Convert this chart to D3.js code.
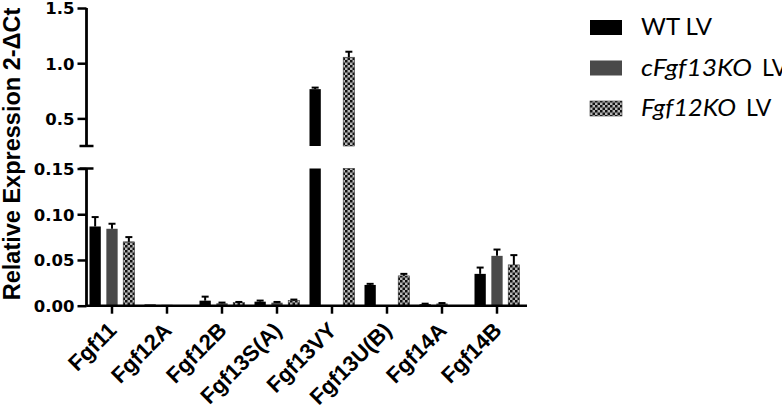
<!DOCTYPE html>
<html><head><meta charset="utf-8">
<script src="https://cdn.jsdelivr.net/npm/d3@7"></script>
<style>body{margin:0;background:#fff}svg{display:block}</style>
</head><body>
<svg id="c" width="782" height="408"></svg>
<script>
const categories = ["Fgf11","Fgf12A","Fgf12B","Fgf13S(A)","Fgf13VY","Fgf13U(B)","Fgf14A","Fgf14B"];
const seriesNames = ["WT LV","cFgf13KO LV","Fgf12KO LV"];
const wtValues   = [0.0866, 0.0014, 0.0055, 0.0044, 0.765, 0.0227, 0.0016, 0.0348];
const wtErrors   = [0.0103, 0,      0.0044, 0.0012, 0.014, 0.0012, 0.0006, 0.0069];
const koValues   = [0.0841, 0.0010, 0.0026, 0.0033, null,  null,   0.0024, 0.0545];
const koErrors   = [0.0055, 0,      0.0008, 0.0008, null,  null,   0.0005, 0.0069];
const ko12Values = [0.0698, null,   0.0033, 0.0055, 1.054, 0.0326, null,   0.0446];
const ko12Errors = [0.0052, null,   0.0008, 0.0012, 0.050, 0.0022, null,   0.0107];
const lowTicks = [0, 0.05, 0.10, 0.15];
const highTicks = [0.5, 1.0, 1.5];

const svg = d3.select("#c");
const defs = svg.append("defs");
const pat = defs.append("pattern").attr("id","chk").attr("patternUnits","userSpaceOnUse")
  .attr("width",5).attr("height",5);
pat.append("rect").attr("width",5).attr("height",5).attr("fill","#b8b8b8");
pat.append("rect").attr("width",2.5).attr("height",2.5).attr("fill","#111");
pat.append("rect").attr("x",2.5).attr("y",2.5).attr("width",2.5).attr("height",2.5).attr("fill","#111");

const axisX = 86.5;
const yLow = d3.scaleLinear().domain([0, 0.15]).range([305.7, 168.5]);
const yHigh = d3.scaleLinear().domain([0.25, 1.5]).range([146, 8]);
const x = d3.scaleBand().domain(categories).range([84.5, 524.5]).padding(0);
const sub = d3.scaleBand().domain([0,1,2]).range([-22.5, 22.5]).paddingInner(0.33);

const fills = ["#000", "#4a4a4a", "url(#chk)"];
const series = [
  {vals: wtValues, errs: wtErrors},
  {vals: koValues, errs: koErrors},
  {vals: ko12Values, errs: ko12Errors}
];

const g = svg.append("g");
series.forEach((s, si) => {
  categories.forEach((c, ci) => {
    const v = s.vals[ci];
    if (v == null) return;
    const bx = x(c) + x.bandwidth()/2 + sub(si);
    const bw = sub.bandwidth();
    const stroke = si === 2 ? "#333" : "none";
    if (v <= 0.15) {
      g.append("rect").attr("x", bx).attr("width", bw)
        .attr("y", yLow(v)).attr("height", yLow(0) - yLow(v))
        .attr("fill", fills[si]).attr("stroke", stroke).attr("stroke-width", 0.6);
    } else {
      g.append("rect").attr("x", bx).attr("width", bw)
        .attr("y", yLow(0.15)).attr("height", yLow(0) - yLow(0.15))
        .attr("fill", fills[si]).attr("stroke", stroke).attr("stroke-width", 0.6);
      g.append("rect").attr("x", bx).attr("width", bw)
        .attr("y", yHigh(v)).attr("height", yHigh(0.25) - yHigh(v))
        .attr("fill", fills[si]).attr("stroke", stroke).attr("stroke-width", 0.6);
    }
    const e = s.errs[ci];
    if (e) {
      const sc = v > 0.15 ? yHigh : yLow;
      const cx = bx + bw/2;
      g.append("line").attr("x1", cx).attr("x2", cx)
        .attr("y1", sc(v)).attr("y2", sc(v + e)).attr("stroke", "#000").attr("stroke-width", 2);
      g.append("line").attr("x1", cx - 3.5).attr("x2", cx + 3.5)
        .attr("y1", sc(v + e)).attr("y2", sc(v + e)).attr("stroke", "#000").attr("stroke-width", 2);
    }
  });
});

// Y axes
const tickFont = "'DejaVu Sans', sans-serif";
const axLow = svg.append("g").attr("transform", `translate(${axisX},0)`)
  .call(d3.axisLeft(yLow).tickValues(lowTicks).tickFormat(d3.format(".2f")).tickSize(9).tickSizeOuter(0));
const axHigh = svg.append("g").attr("transform", `translate(${axisX},0)`)
  .call(d3.axisLeft(yHigh).tickValues(highTicks).tickFormat(d3.format(".1f")).tickSize(9).tickSizeOuter(0));
[axLow, axHigh].forEach(a => {
  a.select(".domain").remove();
  a.selectAll(".tick line").attr("stroke", "#000").attr("stroke-width", 2.5);
  a.selectAll(".tick text").attr("font-family", tickFont).attr("font-weight", "bold")
    .attr("font-size", "16.5px").attr("fill", "#000").attr("x", -12).attr("dy", "0.36em");
});
svg.append("line").attr("x1", axisX).attr("x2", axisX).attr("y1", yHigh(1.5)).attr("y2", yHigh(0.25))
  .attr("stroke", "#000").attr("stroke-width", 2.8);
svg.append("line").attr("x1", axisX).attr("x2", axisX).attr("y1", yLow(0.15)).attr("y2", yLow(0)+1)
  .attr("stroke", "#000").attr("stroke-width", 2.8);
// break markers
svg.append("line").attr("x1", axisX - 7).attr("x2", axisX + 7).attr("y1", yHigh(0.25)).attr("y2", yHigh(0.25))
  .attr("stroke", "#000").attr("stroke-width", 2.5);
svg.append("line").attr("x1", axisX - 7).attr("x2", axisX + 7).attr("y1", yLow(0.15)).attr("y2", yLow(0.15))
  .attr("stroke", "#000").attr("stroke-width", 2.5);

// X axis
const ax = svg.append("g").attr("transform", `translate(0,${yLow(0)})`)
  .call(d3.axisBottom(x).tickSize(8).tickSizeOuter(0));
ax.select(".domain").attr("d", `M${axisX},0H527`).attr("stroke", "#000").attr("stroke-width", 2.5);
ax.selectAll(".tick line").attr("stroke", "#000").attr("stroke-width", 2.5);
ax.selectAll(".tick text").attr("font-family", "'Liberation Sans', Arial, sans-serif")
  .attr("font-weight", "bold").attr("font-size", "22px").attr("fill", "#000")
  .attr("text-anchor", "end").attr("dy", 0).attr("y", 0)
  .attr("transform", "translate(6,26) rotate(-45)");

// Y title
svg.append("text").attr("transform", "translate(20,154) rotate(-90)")
  .attr("text-anchor", "middle").attr("font-family", "'Liberation Sans', Arial, sans-serif")
  .attr("font-weight", "bold").attr("font-size", "23.5px").attr("fill", "#000")
  .text("Relative Expression 2-\u0394Ct");

// Legend
const leg = svg.append("g");
const legFills = ["#000", "#4a4a4a", "url(#chk)"];
const italicLen = [null, 111, 95];
const lvX = [null, 762, 746];
seriesNames.forEach((name, i) => {
  const y0 = 20 + i * 40.5;
  leg.append("rect").attr("x", 590).attr("y", y0).attr("width", 32).attr("height", 15)
    .attr("fill", legFills[i]).attr("stroke", i === 2 ? "#333" : "none").attr("stroke-width", 0.6);
  const t = leg.append("text").attr("x", 641).attr("y", y0 + 15)
    .attr("font-family", "Lato, sans-serif").attr("font-size", "23px").attr("fill", "#000");
  if (i === 0) {
    t.attr("textLength", 71).attr("lengthAdjust", "spacingAndGlyphs").text(name);
  } else {
    const parts = name.split(" ");
    t.append("tspan").attr("font-style", "italic")
      .attr("textLength", italicLen[i]).attr("lengthAdjust", "spacingAndGlyphs").text(parts[0]);
    t.append("tspan").attr("x", lvX[i]).text(parts[1]);
  }
});
</script>
</body></html>
